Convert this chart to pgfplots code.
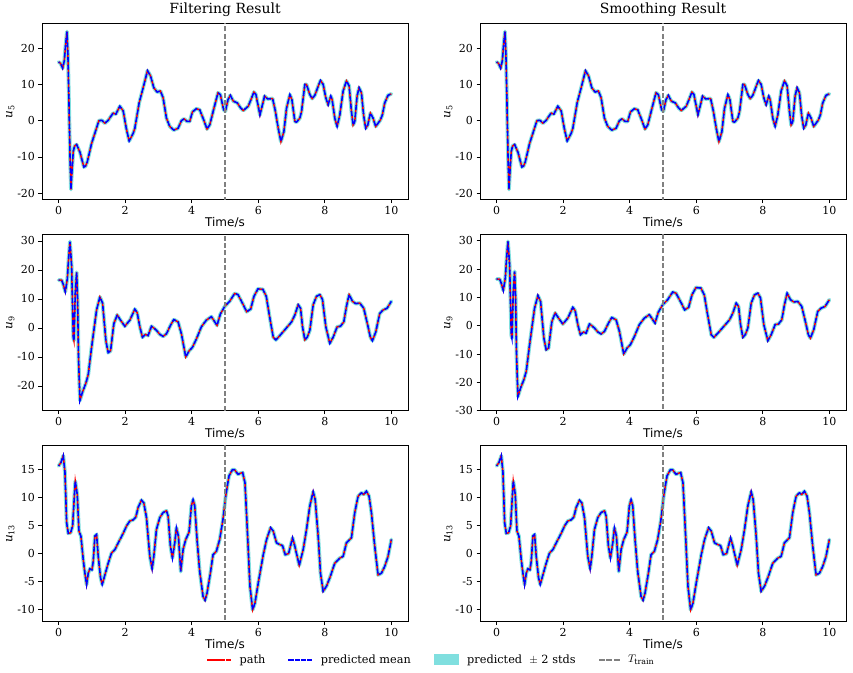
\documentclass[border=0pt]{standalone}
\usepackage{pgfplots}
\pgfplotsset{compat=1.18}
\usepackage{pgfplotstable}
\usepackage{fontspec}
\setmainfont{DejaVu Serif}
\setsansfont{DejaVu Sans}

\definecolor{bandc}{RGB}{128,223,223}
\definecolor{traingray}{RGB}{128,128,128}

% state trajectories (time in s, value)
\pgfplotstableread{
t y
0.00 16.2
0.06 15.8
0.12 14.5
0.17 16.5
0.21 21.0
0.25 24.6
0.28 18.0
0.31 5.0
0.34 -9.0
0.37 -19.0
0.40 -14.0
0.44 -8.5
0.48 -7.0
0.54 -6.6
0.64 -8.7
0.70 -10.8
0.76 -12.8
0.81 -12.5
0.86 -11.4
0.99 -6.3
1.14 -2.0
1.21 0.0
1.30 0.1
1.39 -0.7
1.49 0.1
1.57 1.2
1.64 2.1
1.72 1.8
1.84 4.0
1.94 2.7
2.03 -2.0
2.12 -5.6
2.24 -3.5
2.29 -2.1
2.42 4.9
2.54 9.1
2.67 13.8
2.76 12.4
2.86 9.1
2.96 7.9
3.06 8.2
3.14 6.3
3.24 0.7
3.34 -1.6
3.46 -2.6
3.59 -2.1
3.69 0.0
3.77 0.5
3.86 -0.2
3.94 -0.2
4.02 2.4
4.14 3.3
4.24 3.0
4.36 0.2
4.46 -2.3
4.54 -1.2
4.67 3.5
4.79 7.7
4.86 7.2
4.96 3.0
5.01 2.6
5.09 5.8
5.16 7.0
5.25 5.4
5.37 4.9
5.47 3.5
5.55 2.8
5.70 4.0
5.87 7.9
5.93 7.2
6.05 1.6
6.19 6.8
6.28 6.0
6.43 6.1
6.51 2.8
6.60 -2.1
6.68 -5.8
6.77 -3.0
6.85 3.5
6.95 7.2
7.01 5.8
7.10 -0.2
7.15 -0.4
7.25 0.7
7.30 2.5
7.40 10.0
7.45 10.0
7.55 7.2
7.62 6.1
7.70 7.0
7.80 9.5
7.87 11.1
7.95 10.0
8.03 6.3
8.10 4.4
8.18 6.8
8.22 5.8
8.30 0.7
8.37 -1.6
8.45 1.6
8.55 8.2
8.65 11.0
8.73 9.6
8.80 2.6
8.85 -1.2
8.90 -0.2
8.97 6.8
9.03 9.1
9.10 7.7
9.17 1.2
9.23 -2.1
9.29 -1.2
9.37 2.1
9.45 0.7
9.53 -1.6
9.60 -0.7
9.67 0.2
9.73 1.6
9.80 4.9
9.90 7.0
10.0 7.4
}\uFive

\pgfplotstableread{
t y
0.00 16.5
0.09 16.5
0.14 15.0
0.20 12.5
0.26 16.8
0.30 24.0
0.34 29.8
0.39 21.5
0.44 -3.2
0.46 -4.4
0.50 12.0
0.54 19.2
0.57 9.8
0.60 -11.4
0.64 -25.0
0.72 -22.0
0.82 -19.0
0.89 -16.1
0.99 -6.7
1.14 6.2
1.24 10.7
1.32 8.6
1.42 -4.4
1.49 -8.5
1.56 -7.9
1.66 1.5
1.76 4.5
1.86 2.7
1.99 0.6
2.14 2.7
2.29 6.5
2.36 5.3
2.44 0.4
2.52 -3.2
2.61 -2.2
2.69 -2.6
2.79 0.6
2.86 0.0
2.94 -0.8
3.04 -2.2
3.14 -2.9
3.24 -2.0
3.36 0.9
3.46 2.9
3.59 2.1
3.69 -2.0
3.82 -10.0
3.92 -7.9
4.02 -6.7
4.14 -3.8
4.29 0.4
4.44 2.7
4.59 3.9
4.66 2.7
4.76 0.9
4.86 4.8
4.99 7.4
5.14 9.2
5.29 11.9
5.39 11.5
5.55 8.0
5.65 5.6
5.77 6.5
5.87 10.9
5.99 13.5
6.14 13.3
6.24 10.9
6.34 3.9
6.45 -3.2
6.53 -4.1
6.65 -2.6
6.83 -0.2
7.00 2.1
7.10 4.5
7.20 8.0
7.27 6.8
7.33 0.4
7.40 -4.1
7.47 -3.2
7.55 -0.8
7.65 8.0
7.75 10.9
7.85 11.5
7.93 9.8
8.03 0.4
8.15 -5.3
8.25 -3.2
8.37 0.4
8.47 0.6
8.57 2.1
8.65 7.4
8.73 11.5
8.83 9.2
8.93 8.4
9.05 8.6
9.17 6.8
9.30 0.4
9.37 -3.2
9.43 -4.4
9.53 -1.4
9.65 5.0
9.75 6.2
9.87 6.8
10.0 9.2
}\uNine

\pgfplotstableread{
t y
0.00 15.6
0.07 16.2
0.14 17.4
0.19 14.4
0.24 5.5
0.29 3.6
0.36 3.7
0.42 4.9
0.46 9.0
0.50 12.9
0.56 10.5
0.61 4.0
0.67 3.1
0.74 -1.1
0.79 -3.5
0.84 -5.5
0.89 -3.5
0.94 -2.7
1.00 -2.9
1.04 -1.4
1.09 3.1
1.14 3.4
1.19 -0.5
1.26 -4.3
1.31 -5.5
1.39 -3.8
1.49 -1.7
1.59 0.1
1.69 0.7
1.79 1.9
1.94 3.6
2.04 4.9
2.14 5.8
2.24 6.0
2.32 6.5
2.39 8.2
2.49 9.5
2.56 9.0
2.64 6.4
2.74 -0.5
2.81 -2.7
2.86 -0.5
2.94 4.3
3.04 6.4
3.14 7.3
3.24 7.6
3.29 6.7
3.36 1.3
3.42 -0.8
3.49 1.9
3.54 4.6
3.60 3.1
3.67 -3.2
3.74 0.7
3.82 2.5
3.92 3.8
3.99 8.5
4.04 9.6
4.09 8.5
4.16 2.5
4.24 -3.2
4.34 -7.6
4.40 -8.3
4.46 -7.0
4.56 -3.5
4.64 -0.2
4.74 0.4
4.84 2.5
4.94 6.1
5.02 10.2
5.12 13.8
5.22 14.9
5.29 14.9
5.39 14.1
5.47 14.3
5.53 14.4
5.60 12.6
5.67 4.3
5.75 -5.8
5.83 -10.0
5.90 -8.8
6.00 -5.2
6.15 -0.2
6.25 2.5
6.37 4.6
6.45 4.0
6.55 1.9
6.65 1.6
6.73 1.4
6.81 -0.2
6.91 0.0
7.03 2.8
7.10 1.3
7.23 -2.1
7.35 0.7
7.45 4.3
7.55 8.5
7.65 11.0
7.71 9.6
7.80 3.1
7.87 -3.5
7.95 -6.7
8.05 -5.8
8.15 -4.3
8.30 -1.7
8.45 -0.8
8.55 -0.5
8.65 1.9
8.80 2.8
8.90 7.3
9.00 10.2
9.10 10.8
9.17 10.5
9.25 11.1
9.33 10.2
9.40 7.3
9.50 1.3
9.60 -3.8
9.70 -3.5
9.80 -2.3
9.90 -0.5
10.0 2.5
}\uThirteen

\pgfplotsset{
  panel/.style={
    scale only axis, width=366pt, height=176pt, anchor=north west,
    xmin=-0.5, xmax=10.5,
    xtick={0,2,4,6,8,10}, xticklabels={0,2,4,6,8,10},
    tick align=outside, tick pos=left, major tick length=3.5pt,
    axis line style={line width=0.7pt},
    every tick/.style={black, line width=0.7pt},
    tick label style={font=\fontsize{11}{13}\selectfont},
    xlabel={Time/s},
    xlabel style={font=\fontsize{12}{14}\sffamily, yshift=4pt},
    ylabel style={font=\fontsize{12}{14}\selectfont, yshift=-4pt},
    title style={font=\fontsize{14}{16}\selectfont, yshift=-3pt},
  },
  band/.style={bandc, line width=3.8pt, line join=round, line cap=round, forget plot},
  pathline/.style={red, line width=1.5pt, dash pattern=on 5pt off 2.4pt, forget plot},
  meanline/.style={blue, line width=1.6pt, dash pattern=on 5pt off 2.4pt, dash phase=3.9pt, forget plot},
  trainline/.style={traingray, line width=1.4pt, dash pattern=on 5pt off 2.4pt, forget plot},
}

\newcommand{\drawstate}[1]{%
  \addplot[band] table[x=t,y=y] {#1};
  \addplot[pathline] table[x=t,y=y] {#1};
  \addplot[meanline] table[x=t,y=y] {#1};
  \addplot[trainline] coordinates {(5,-100) (5,100)};
}

% dashed legend sample built from short filled dashes
\newcommand{\dashsample}[1]{%
  \fill[#1] (0pt,-0.7pt) rectangle (4.5pt,0.7pt);
  \fill[#1] (6.2pt,-0.7pt) rectangle (10.7pt,0.7pt);
  \fill[#1] (12.4pt,-0.7pt) rectangle (16.9pt,0.7pt);
  \fill[#1] (18.6pt,-0.7pt) rectangle (23.1pt,0.7pt);
}
\newcommand{\dashsampleshort}[1]{%
  \fill[#1] (0pt,-0.6pt) rectangle (5pt,0.6pt);
  \fill[#1] (7.5pt,-0.6pt) rectangle (12.5pt,0.6pt);
  \fill[#1] (15pt,-0.6pt) rectangle (20pt,0.6pt);
}

\begin{document}
\begin{tikzpicture}
\path (0pt,0pt) rectangle (853pt,-671pt);

% row 1: u5
\begin{axis}[panel, at={(42pt,-22pt)}, title={Filtering Result},
  ymin=-21.8, ymax=26.8, ytick={-20,-10,0,10,20}, yticklabels={-20,-10,0,10,20},
  ylabel={\textit{u}\textsubscript{5}}]
\drawstate{\uFive}
\end{axis}
\begin{axis}[panel, at={(480pt,-22pt)}, title={Smoothing Result},
  ymin=-21.8, ymax=26.8, ytick={-20,-10,0,10,20}, yticklabels={-20,-10,0,10,20},
  ylabel={\textit{u}\textsubscript{5}}]
\drawstate{\uFive}
\end{axis}

% row 2: u9
\begin{axis}[panel, at={(42pt,-233pt)},
  ymin=-28.5, ymax=32.2, ytick={-20,-10,0,10,20,30}, yticklabels={-20,-10,0,10,20,30},
  ylabel={\textit{u}\textsubscript{9}}]
\drawstate{\uNine}
\end{axis}
\begin{axis}[panel, at={(480pt,-233pt)},
  ymin=-30, ymax=32.2, ytick={-30,-20,-10,0,10,20,30}, yticklabels={-30,-20,-10,0,10,20,30},
  ylabel={\textit{u}\textsubscript{9}}]
\drawstate{\uNine}
\end{axis}

% row 3: u13, with the shared legend below
\begin{axis}[panel, at={(42pt,-444pt)},
  ymin=-12.1, ymax=19.2, ytick={-10,-5,0,5,10,15}, yticklabels={-10,-5,0,5,10,15},
  ylabel={\textit{u}\textsubscript{13}},
  legend columns=4,
  legend style={at={(1.066,-0.215)}, anchor=center, draw=none, fill=none,
    font=\fontsize{11.3}{13}\selectfont,
    nodes={inner xsep=3pt},
    /tikz/every odd column/.append style={column sep=6pt},
    /tikz/every even column/.append style={column sep=20pt}},
  legend cell align=left]
\addlegendimage{legend image code/.code={\dashsample{red}}}
\addlegendentry{path}
\addlegendimage{legend image code/.code={\dashsample{blue}}}
\addlegendentry{predicted mean}
\addlegendimage{legend image code/.code={\fill[bandc] (0pt,-5pt) rectangle (24pt,5pt);}}
\addlegendentry{predicted\ \ $\pm$ 2 stds}
\addlegendimage{legend image code/.code={\dashsampleshort{traingray}}}
\addlegendentry{$T_{\mathrm{train}}$}
\drawstate{\uThirteen}
\end{axis}
\begin{axis}[panel, at={(480pt,-444pt)},
  ymin=-12.1, ymax=19.2, ytick={-10,-5,0,5,10,15}, yticklabels={-10,-5,0,5,10,15},
  ylabel={\textit{u}\textsubscript{13}}]
\drawstate{\uThirteen}
\end{axis}
\end{tikzpicture}
\end{document}
